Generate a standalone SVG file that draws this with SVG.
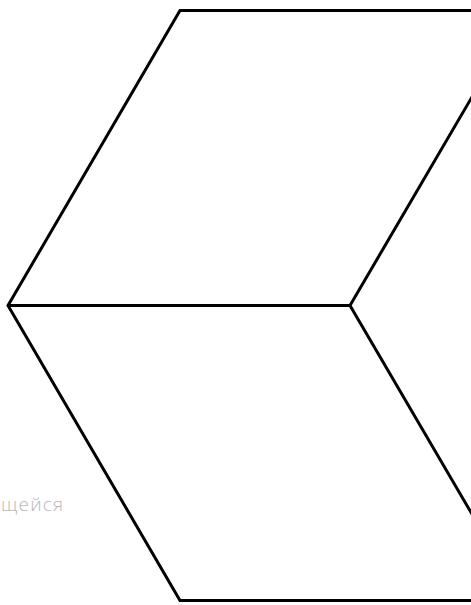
<svg xmlns="http://www.w3.org/2000/svg" width="471" height="605" viewBox="0 0 471 605">
<style>
.edge{fill:none;stroke:#000;stroke-width:3;stroke-linejoin:miter;stroke-linecap:butt}
.lbl{font-family:"Open Sans","Noto Sans","Liberation Sans",sans-serif;font-weight:300;font-size:19px;fill:#b8b8b8}
</style>
<rect width="471" height="605" fill="#fff"/>
<g id="connectors">
<polyline class="edge" points="473,10.5 180,10.5 8,305.5 180,600.5 473,600.5"/>
<line class="edge" x1="8" y1="305.5" x2="350" y2="305.5"/>
<polyline class="edge" points="474,93.5 350,305.5 474,517.5"/>
</g>
<g id="label">
<text class="lbl" x="1" y="511" textLength="62" lengthAdjust="spacing">щейся</text>
</g>
</svg>
